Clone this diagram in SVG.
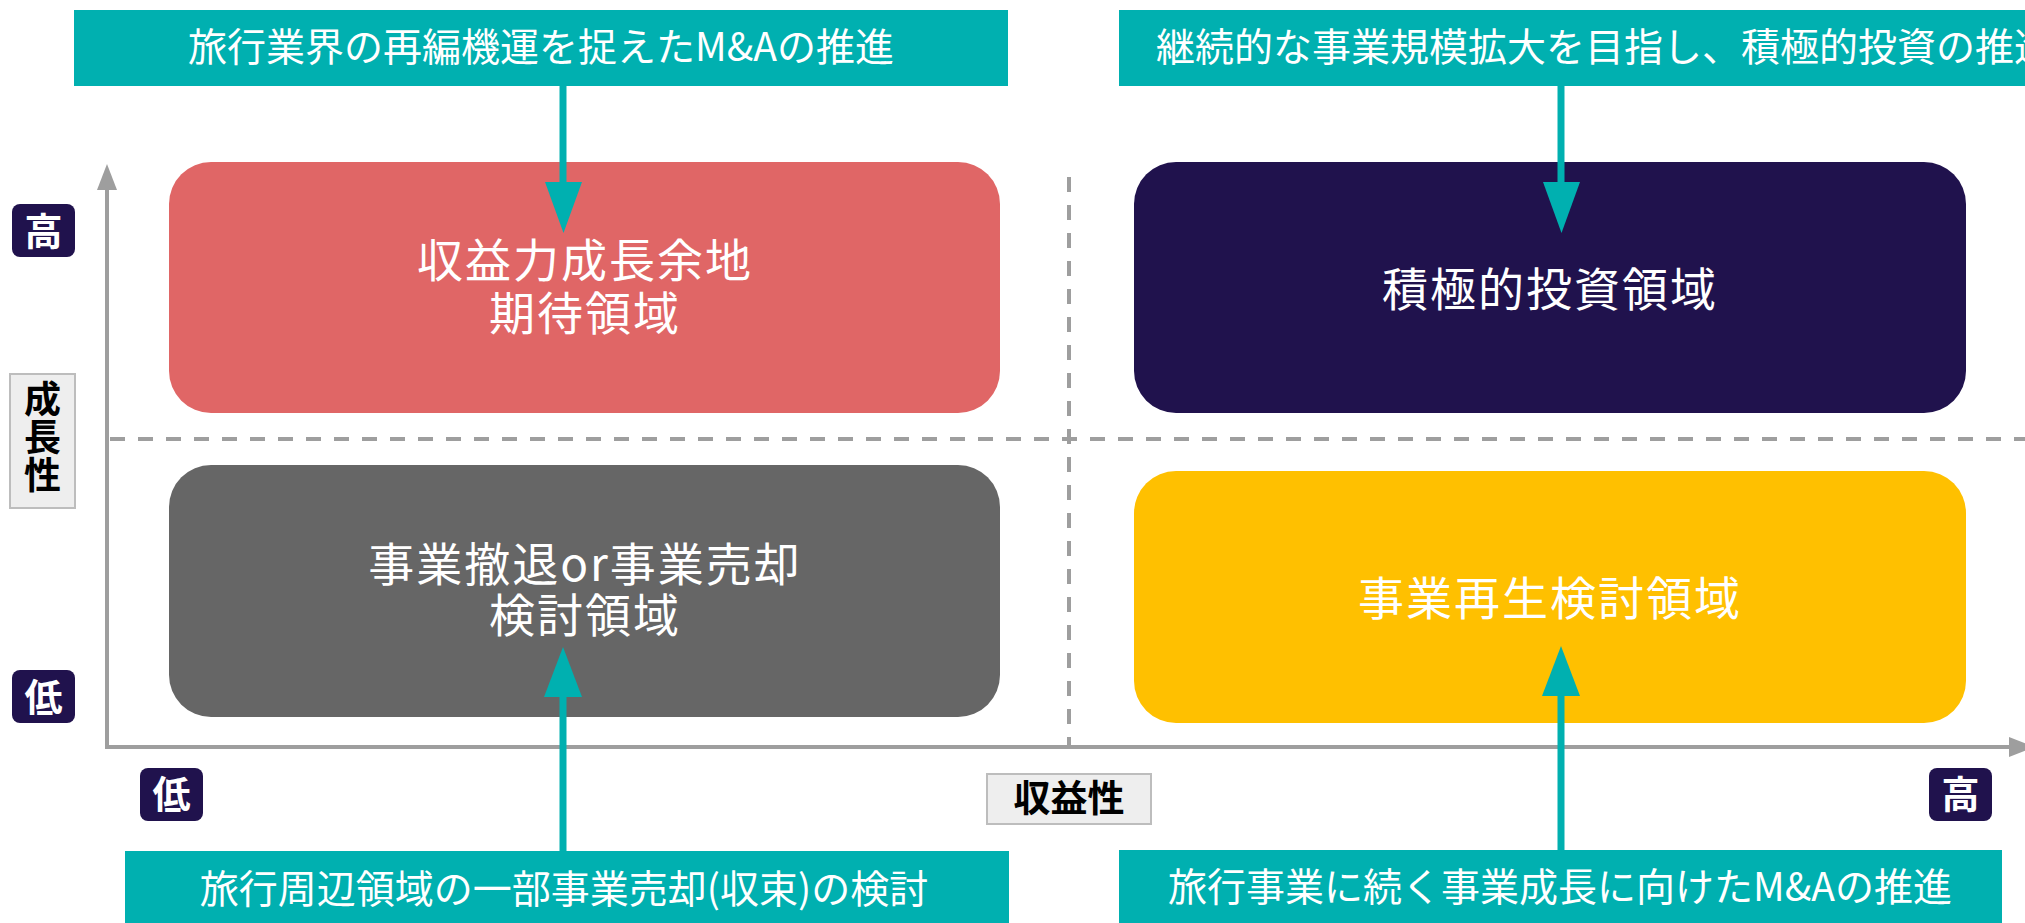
<svg xmlns="http://www.w3.org/2000/svg" width="2025" height="923" viewBox="0 0 2025 923">
<style>
.jp{font-family:"Noto Sans CJK JP","Noto Sans",sans-serif}
.node{font-size:46px;fill:#ffffff;text-anchor:middle;letter-spacing:2px}
.cap{font-size:39px;fill:#ffffff;text-anchor:middle}
.badge{fill:#20124D}
.btxt{font-size:38px;font-weight:bold;fill:#ffffff;text-anchor:middle}
.lbl{fill:#eeeeee;stroke:#bdbdbd;stroke-width:2}
.ltxt{font-size:37px;font-weight:bold;fill:#000000;text-anchor:middle}
.teal{fill:#00B0B0}
.axis{stroke:#9e9e9e;stroke-width:4;fill:none}
.dash{stroke:#9e9e9e;stroke-width:4;fill:none;stroke-dasharray:15 13}
.conn{stroke:#00B0B0;stroke-width:7;fill:none}
</style>
<rect width="2025" height="923" fill="#ffffff"/>
<g id="axes">
<line class="dash" x1="110" y1="439" x2="2025" y2="439"/>
<line class="dash" x1="1069" y1="177" x2="1069" y2="745"/>
<line class="axis" x1="107" y1="187" x2="107" y2="747"/>
<line class="axis" x1="105" y1="747" x2="2011" y2="747"/>
<polygon points="107,164 97,190 117,190" fill="#9e9e9e"/>
<polygon points="2035,747 2009,737 2009,757" fill="#9e9e9e"/>
</g>
<g id="node-red">
<rect x="169" y="162" width="831" height="251" rx="42" fill="#E06666"/>
<text class="jp node"><tspan x="585" y="277">収益力成長余地</tspan><tspan x="585" y="330">期待領域</tspan></text>
</g>
<g id="node-navy">
<rect x="1134" y="162" width="832" height="251" rx="42" fill="#20124D"/>
<text class="jp node" x="1550" y="306">積極的投資領域</text>
</g>
<g id="node-gray">
<rect x="169" y="465" width="831" height="252" rx="42" fill="#666666"/>
<text class="jp node"><tspan x="585" y="581">事業撤退or事業売却</tspan><tspan x="585" y="632">検討領域</tspan></text>
</g>
<g id="node-yellow">
<rect x="1134" y="471" width="832" height="252" rx="42" fill="#FFC000"/>
<text class="jp node" x="1550" y="615">事業再生検討領域</text>
</g>
<g id="cap-tl">
<rect class="teal" x="74" y="10" width="934" height="76"/>
<text class="jp cap" x="541" y="61">旅行業界の再編機運を捉えたM&amp;Aの推進</text>
</g>
<g id="cap-tr">
<rect class="teal" x="1119" y="10" width="960" height="76"/>
<text class="jp cap" x="1156" y="61" style="text-anchor:start">継続的な事業規模拡大を目指し、積極的投資の推進</text>
</g>
<g id="cap-bl">
<rect class="teal" x="125" y="851" width="884" height="76"/>
<text class="jp cap" x="564" y="903">旅行周辺領域の一部事業売却(収束)の検討</text>
</g>
<g id="cap-br">
<rect class="teal" x="1119" y="850" width="883" height="76"/>
<text class="jp cap" x="1560" y="901">旅行事業に続く事業成長に向けたM&amp;Aの推進</text>
</g>
<g id="connectors">
<line class="conn" x1="563" y1="86" x2="563" y2="184"/>
<polygon class="teal" points="545,182 582,182 563.5,233"/>
<line class="conn" x1="1561" y1="86" x2="1561" y2="184"/>
<polygon class="teal" points="1543,182 1580,182 1561.5,233"/>
<line class="conn" x1="563" y1="851" x2="563" y2="695"/>
<polygon class="teal" points="544,697 582,697 563,647"/>
<line class="conn" x1="1561" y1="850" x2="1561" y2="694"/>
<polygon class="teal" points="1542,696 1580,696 1561,646"/>
</g>
<g id="badge-high-y">
<rect class="badge" x="12" y="204" width="63" height="53" rx="8"/>
<text class="jp btxt" x="43.5" y="245">高</text>
</g>
<g id="badge-low-y">
<rect class="badge" x="12" y="670" width="63" height="53" rx="8"/>
<text class="jp btxt" x="43.5" y="711">低</text>
</g>
<g id="badge-low-x">
<rect class="badge" x="140" y="768" width="63" height="53" rx="8"/>
<text class="jp btxt" x="171.5" y="808">低</text>
</g>
<g id="badge-high-x">
<rect class="badge" x="1929" y="768" width="63" height="53" rx="8"/>
<text class="jp btxt" x="1960.5" y="808">高</text>
</g>
<g id="label-y">
<rect class="lbl" x="10" y="374" width="65" height="134"/>
<text class="jp ltxt"><tspan x="42.5" y="413">成</tspan><tspan x="42.5" y="451">長</tspan><tspan x="42.5" y="489">性</tspan></text>
</g>
<g id="label-x">
<rect class="lbl" x="987" y="774" width="164" height="50"/>
<text class="jp ltxt" x="1069" y="812">収益性</text>
</g>
</svg>
